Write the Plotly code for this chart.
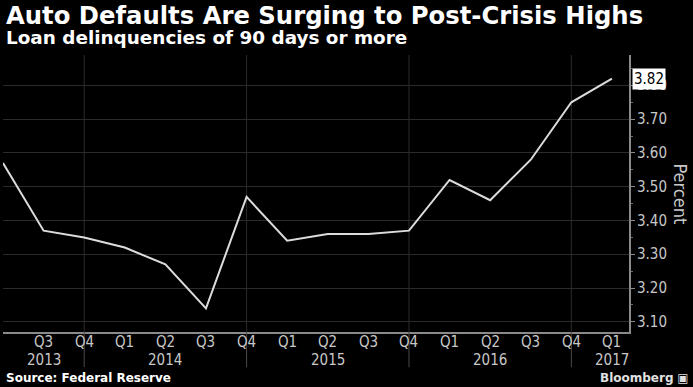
import plotly.graph_objects as go

quarters = ["Q2", "Q3", "Q4", "Q1", "Q2", "Q3", "Q4", "Q1", "Q2", "Q3", "Q4", "Q1", "Q2", "Q3", "Q4", "Q1"]
years = ["", "2013", "", "", "2014", "", "", "", "2015", "", "", "", "2016", "", "", "2017"]
values = [3.57, 3.37, 3.35, 3.32, 3.27, 3.14, 3.47, 3.34, 3.36, 3.36, 3.37, 3.52, 3.46, 3.58, 3.75, 3.82]
ytick_vals = [3.10, 3.20, 3.30, 3.40, 3.50, 3.60, 3.70, 3.80]

x = list(range(len(values)))
q4_positions = [i for i, q in enumerate(quarters) if q == "Q4"]

LABEL_FONT = dict(family="DejaVu Sans Condensed", size=15, color="#c8c8c8")

fig = go.Figure()
fig.add_trace(go.Scatter(
    x=x, y=values, mode="lines",
    line=dict(color="#dcdcdc", width=2),
    hoverinfo="skip", showlegend=False,
))

fig.update_layout(
    width=693, height=387,
    paper_bgcolor="black", plot_bgcolor="black",
    margin=dict(l=3, r=64, t=55, b=55),
    xaxis=dict(
        range=[0, 15.42], showticklabels=False,
        showgrid=False, zeroline=False,
        showline=True, linecolor="#8a8a8a", linewidth=2, ticks="",
    ),
    yaxis=dict(
        side="right", range=[3.07, 3.89],
        tickmode="array", tickvals=ytick_vals, showticklabels=False,
        showgrid=True, gridcolor="#2b2b2b", gridwidth=1,
        zeroline=False, showline=True, linecolor="#8a8a8a", linewidth=2,
        ticks="outside", ticklen=4, tickcolor="#8a8a8a",
        minor=dict(tickvals=[3.10 + 0.05 * i for i in range(16)], ticks="outside",
                   ticklen=2, tickcolor="#6a6a6a", showgrid=False),
    ),
)

# vertical year-boundary lines at Q4 positions (grid + extension below axis)
for p in q4_positions:
    fig.add_shape(type="line", xref="x", yref="paper", x0=p, x1=p, y0=0, y1=1,
                  line=dict(color="#2b2b2b", width=1), layer="below")
    fig.add_shape(type="line", xref="x", yref="paper", x0=p, x1=p, y0=-0.127, y1=0,
                  line=dict(color="#4a4a4a", width=1))

# x tick labels (quarters and years)
for i in x[1:]:
    fig.add_annotation(x=i, xref="x", y=0, yref="paper", yshift=-10,
                       text=quarters[i], showarrow=False, xanchor="center", yanchor="middle",
                       font=LABEL_FONT)
    if years[i]:
        fig.add_annotation(x=i, xref="x", y=0, yref="paper", yshift=-28,
                           text=years[i], showarrow=False, xanchor="center", yanchor="middle",
                           font=LABEL_FONT)

# y tick labels on the right
for v in ytick_vals:
    fig.add_annotation(x=1, xref="paper", y=v, yref="y", xshift=6,
                       text=f"{v:.2f}", showarrow=False, xanchor="left", yanchor="middle",
                       font=LABEL_FONT)

# y axis title
fig.add_annotation(x=1, xref="paper", y=0.5, yref="paper", xshift=51,
                   text="Percent", textangle=90, showarrow=False,
                   xanchor="center", yanchor="middle",
                   font=dict(family="DejaVu Sans Condensed", size=18, color="#c8c8c8"))

# value label at last point
fig.add_annotation(
    x=1.0, xref="paper", y=values[-1], yref="y",
    text=f"{values[-1]:.2f}", showarrow=False, xanchor="left", xshift=3,
    font=dict(family="DejaVu Sans Condensed", size=15, color="black"),
    bgcolor="white", borderpad=1,
)

fig.add_annotation(x=0, xref="paper", y=1, yref="paper", yshift=56, xshift=1,
                   text="<b>Auto Defaults Are Surging to Post-Crisis Highs</b>",
                   showarrow=False, xanchor="left", yanchor="top",
                   font=dict(family="DejaVu Sans", size=24.3, color="white"))
fig.add_annotation(x=0, xref="paper", y=1, yref="paper", yshift=30, xshift=1,
                   text="<b>Loan delinquencies of 90 days or more</b>",
                   showarrow=False, xanchor="left", yanchor="top",
                   font=dict(family="DejaVu Sans", size=18.4, color="white"))
fig.add_annotation(x=0, xref="paper", y=0, yref="paper", yshift=-46, xshift=1,
                   text="<b>Source: Federal Reserve</b>",
                   showarrow=False, xanchor="left", yanchor="middle",
                   font=dict(family="DejaVu Sans", size=12, color="white"))
fig.add_annotation(x=1, xref="paper", y=0, yref="paper", yshift=-46, xshift=62,
                   text="<b>Bloomberg</b> ▣",
                   showarrow=False, xanchor="right", yanchor="middle",
                   font=dict(family="DejaVu Sans", size=12, color="#e0e0e0"))

fig.write_html("out.html",
               config={"displayModeBar": False},
               post_script="document.body.style.margin='0px';document.body.style.overflow='hidden';")
